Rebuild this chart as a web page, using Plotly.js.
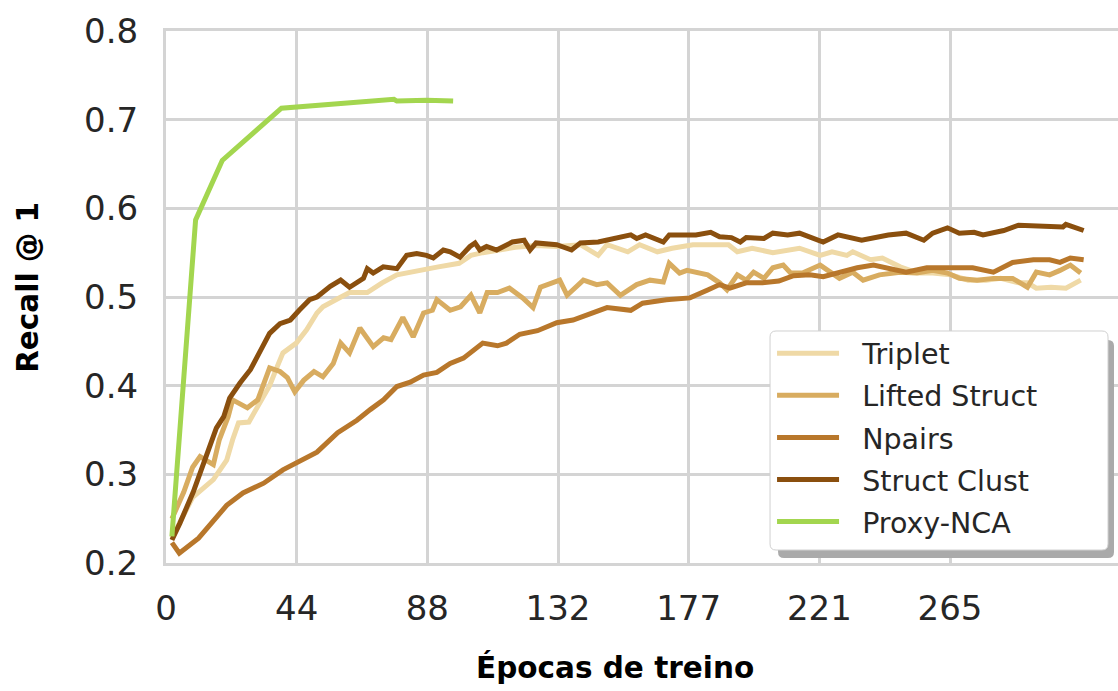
<!DOCTYPE html>
<html>
<head>
<meta charset="utf-8">
<script src="https://cdn.plot.ly/plotly-3.0.1.min.js"></script>
<style>
  html, body { margin: 0; padding: 0; background: #ffffff; }
  #chart { width: 1118px; height: 691px; }
</style>
</head>
<body>
<div id="chart"></div>
<script>
// Recall@1 per training epoch for each loss function
const seriesNames = ['Triplet', 'Lifted Struct', 'Npairs', 'Struct Clust', 'Proxy-NCA'];
const seriesColors = ['#efd9a6', '#d8ac60', '#b8772b', '#8a4f0e', '#a3d64f'];

const tripletEpochs = [2, 9, 16, 20.5, 22.5, 24.5, 28, 31, 35, 37.5, 39.5, 44, 47.5, 51, 53, 58, 62, 68, 73, 78, 85, 92, 99, 103, 107, 112, 118, 125, 132, 140, 146, 149, 156, 160, 166, 171, 178, 185, 190, 193, 198, 205, 210, 214, 221, 225, 230, 232, 238, 242, 248, 254, 259, 265, 271, 277, 282, 288, 291, 294, 299, 304, 309];
const tripletRecall = [0.228, 0.274, 0.294, 0.316, 0.339, 0.358, 0.359, 0.376, 0.40, 0.421, 0.437, 0.448, 0.463, 0.482, 0.489, 0.498, 0.505, 0.505, 0.516, 0.525, 0.530, 0.534, 0.538, 0.547, 0.550, 0.553, 0.556, 0.558, 0.557, 0.559, 0.547, 0.559, 0.551, 0.559, 0.551, 0.555, 0.559, 0.559, 0.559, 0.551, 0.555, 0.550, 0.553, 0.555, 0.547, 0.551, 0.547, 0.551, 0.542, 0.544, 0.534, 0.527, 0.527, 0.525, 0.519, 0.519, 0.521, 0.516, 0.516, 0.510, 0.511, 0.510, 0.519];

const liftedEpochs = [2, 6, 9, 11.5, 16, 18, 21, 22.5, 27.5, 31, 35, 38.5, 41, 43.5, 46.5, 50, 53, 56.5, 59, 62, 65.5, 70, 73.5, 76, 80, 83.5, 87, 90, 91.5, 96, 99.5, 103, 106, 108.5, 112, 116, 120.5, 124, 126.5, 133, 135.5, 141, 145.5, 149, 153.5, 159, 163.5, 168, 170, 173.5, 176, 183, 187, 189.5, 193, 196, 198.5, 202, 205, 208.5, 211, 215, 221, 227.5, 232, 235.5, 241, 248, 253.5, 259, 264, 268, 274, 279.5, 286, 291, 294, 298.5, 302, 305.5, 309];
const liftedRecall = [0.25, 0.28, 0.308, 0.32, 0.311, 0.339, 0.365, 0.384, 0.375, 0.384, 0.42, 0.416, 0.409, 0.393, 0.406, 0.416, 0.41, 0.425, 0.448, 0.437, 0.465, 0.444, 0.454, 0.452, 0.477, 0.455, 0.482, 0.485, 0.497, 0.485, 0.489, 0.502, 0.482, 0.505, 0.505, 0.510, 0.499, 0.488, 0.511, 0.519, 0.502, 0.519, 0.514, 0.516, 0.502, 0.514, 0.519, 0.517, 0.538, 0.527, 0.530, 0.525, 0.516, 0.508, 0.525, 0.519, 0.528, 0.521, 0.533, 0.536, 0.527, 0.527, 0.536, 0.521, 0.528, 0.519, 0.525, 0.528, 0.527, 0.530, 0.527, 0.521, 0.519, 0.521, 0.521, 0.511, 0.528, 0.525, 0.530, 0.536, 0.527];

const npairsEpochs = [2, 4.5, 11, 20.5, 26, 33, 39.5, 44.5, 51, 58, 64.5, 69, 73.5, 78, 82.5, 87, 91.5, 96, 100.5, 107, 112, 115, 119.5, 125.5, 132, 137.5, 144, 149, 157, 161, 169, 177, 183, 187, 190.5, 196, 201.5, 207, 212, 217.5, 222, 227.5, 233.5, 239, 243.5, 250, 257, 264, 272.5, 279.5, 286, 293, 298.5, 302, 305.5, 310];
const npairsRecall = [0.223, 0.211, 0.228, 0.265, 0.279, 0.29, 0.305, 0.314, 0.325, 0.347, 0.361, 0.373, 0.384, 0.399, 0.404, 0.412, 0.415, 0.425, 0.431, 0.448, 0.445, 0.448, 0.458, 0.462, 0.471, 0.474, 0.482, 0.488, 0.485, 0.493, 0.497, 0.499, 0.508, 0.514, 0.510, 0.516, 0.516, 0.518, 0.524, 0.525, 0.523, 0.528, 0.533, 0.536, 0.533, 0.528, 0.533, 0.533, 0.533, 0.528, 0.539, 0.542, 0.542, 0.539, 0.544, 0.542];

const clustEpochs = [2, 4.7, 9.2, 15, 17, 19.5, 21.5, 25, 28.5, 32, 35, 38.5, 42, 45, 48.5, 51, 55.5, 59, 62, 66.7, 68, 70, 73.4, 78, 81.3, 84.7, 88, 90.3, 93.7, 96, 99.3, 102.7, 104.4, 106, 108.3, 111.7, 117, 121, 123, 125, 132, 137, 140, 146, 157, 159, 162, 168, 170, 179, 184, 187, 191, 194, 196, 202, 205, 210, 214, 222, 227, 235, 244, 250, 256, 259, 264, 268, 273, 276, 283, 288, 296, 303, 304, 307, 310];
const clustRecall = [0.226, 0.245, 0.28, 0.332, 0.352, 0.365, 0.386, 0.403, 0.418, 0.440, 0.459, 0.470, 0.474, 0.485, 0.497, 0.500, 0.512, 0.519, 0.511, 0.521, 0.532, 0.527, 0.534, 0.532, 0.547, 0.549, 0.547, 0.544, 0.553, 0.551, 0.545, 0.557, 0.561, 0.553, 0.557, 0.553, 0.562, 0.564, 0.553, 0.561, 0.559, 0.553, 0.561, 0.562, 0.57, 0.566, 0.57, 0.562, 0.57, 0.57, 0.573, 0.568, 0.567, 0.562, 0.567, 0.566, 0.572, 0.57, 0.572, 0.562, 0.57, 0.564, 0.57, 0.572, 0.564, 0.572, 0.578, 0.572, 0.573, 0.57, 0.575, 0.581, 0.58, 0.579, 0.582, 0.579, 0.575];

const proxyEpochs = [2, 10, 19, 39, 58, 77, 78, 88, 97];
const proxyRecall = [0.23, 0.587, 0.654, 0.713, 0.718, 0.723, 0.721, 0.722, 0.721];

// x ticks: seven evenly spaced epochs over 0..309, labelled with rounded values
const xTickVals = [0, 1, 2, 3, 4, 5, 6].map(k => k * 309 / 7);
const xTickText = ['0', '44', '88', '132', '177', '221', '265'];
const yTickVals = [0.2, 0.3, 0.4, 0.5, 0.6, 0.7, 0.8];
const yTickText = ['0.2', '0.3', '0.4', '0.5', '0.6', '0.7', '0.8'];

const seriesX = [tripletEpochs, liftedEpochs, npairsEpochs, clustEpochs, proxyEpochs];
const seriesY = [tripletRecall, liftedRecall, npairsRecall, clustRecall, proxyRecall];

const traces = seriesNames.map((name, i) => ({
  type: 'scatter',
  mode: 'lines',
  name: '\u00a0\u00a0' + name,
  x: seriesX[i],
  y: seriesY[i],
  legendgroup: 'g' + i,
  line: { color: seriesColors[i], width: 5 }
}));

const gridColor = '#d4d4d4';
const tickFont = { family: 'DejaVu Sans, sans-serif', size: 34, color: '#262626' };

// legend frame (paper coordinates) with rounded corners
function roundedRect(x0, y0, x1, y1, rx, ry) {
  return 'M' + (x0 + rx) + ',' + y0 + ' L' + (x1 - rx) + ',' + y0 +
    ' Q' + x1 + ',' + y0 + ' ' + x1 + ',' + (y0 + ry) +
    ' L' + x1 + ',' + (y1 - ry) +
    ' Q' + x1 + ',' + y1 + ' ' + (x1 - rx) + ',' + y1 +
    ' L' + (x0 + rx) + ',' + y1 +
    ' Q' + x0 + ',' + y1 + ' ' + x0 + ',' + (y1 - ry) +
    ' L' + x0 + ',' + (y0 + ry) +
    ' Q' + x0 + ',' + y0 + ' ' + (x0 + rx) + ',' + y0 + ' Z';
}
const rx = 6 / 952, ry = 6 / 532;

const layout = {
  width: 1118,
  height: 691,
  margin: { l: 166, r: 0, t: 31, b: 128, pad: 0 },
  paper_bgcolor: '#ffffff',
  plot_bgcolor: '#ffffff',
  showlegend: true,
  xaxis: {
    range: [0, 321.6],
    tickmode: 'array',
    tickvals: xTickVals,
    ticktext: xTickText,
    showgrid: true,
    gridcolor: gridColor,
    gridwidth: 3,
    zeroline: false,
    showline: true,
    linecolor: gridColor,
    linewidth: 3,
    mirror: true,
    ticks: 'outside',
    ticklen: 13,
    tickcolor: 'rgba(0,0,0,0)',
    tickfont: tickFont
  },
  yaxis: {
    range: [0.2, 0.8],
    tickmode: 'array',
    tickvals: yTickVals,
    ticktext: yTickText,
    showgrid: true,
    gridcolor: gridColor,
    gridwidth: 3,
    zeroline: false,
    showline: true,
    linecolor: gridColor,
    linewidth: 3,
    ticks: 'outside',
    ticklen: 18,
    tickcolor: 'rgba(0,0,0,0)',
    tickfont: tickFont
  },
  legend: {
    x: 0.6366,
    y: 0.4412,
    xanchor: 'left',
    yanchor: 'top',
    bgcolor: 'rgba(0,0,0,0)',
    borderwidth: 0,
    itemwidth: 62,
    tracegroupgap: 2,
    font: { family: 'DejaVu Sans, sans-serif', size: 28.5, color: '#262626' }
  },
  shapes: [
    {
      // drop shadow of the legend frame
      type: 'path', xref: 'paper', yref: 'paper', layer: 'above',
      path: roundedRect(0.6429, 0.0094, 0.9958, 0.4192, rx, ry),
      fillcolor: '#aaaaaa', line: { width: 0 }
    },
    {
      // legend frame
      type: 'path', xref: 'paper', yref: 'paper', layer: 'above',
      path: roundedRect(0.6345, 0.0244, 0.9895, 0.4361, rx, ry),
      fillcolor: '#ffffff', line: { color: '#d0d0d0', width: 1 }
    }
  ],
  annotations: [
    {
      text: '<b>Épocas de treino</b>', xref: 'paper', yref: 'paper',
      x: 0.4716, y: -0.197, xanchor: 'center', yanchor: 'middle', showarrow: false,
      font: { family: 'DejaVu Sans, sans-serif', size: 29.5, color: '#000000' }
    },
    {
      text: '<b>Recall @ 1</b>', xref: 'paper', yref: 'paper',
      x: -0.145, y: 0.519, xanchor: 'center', yanchor: 'middle', showarrow: false, textangle: -90,
      font: { family: 'DejaVu Sans, sans-serif', size: 29.5, color: '#000000' }
    }
  ]
};

Plotly.newPlot('chart', traces, layout, { staticPlot: true, displayModeBar: false });
</script>
</body>
</html>
